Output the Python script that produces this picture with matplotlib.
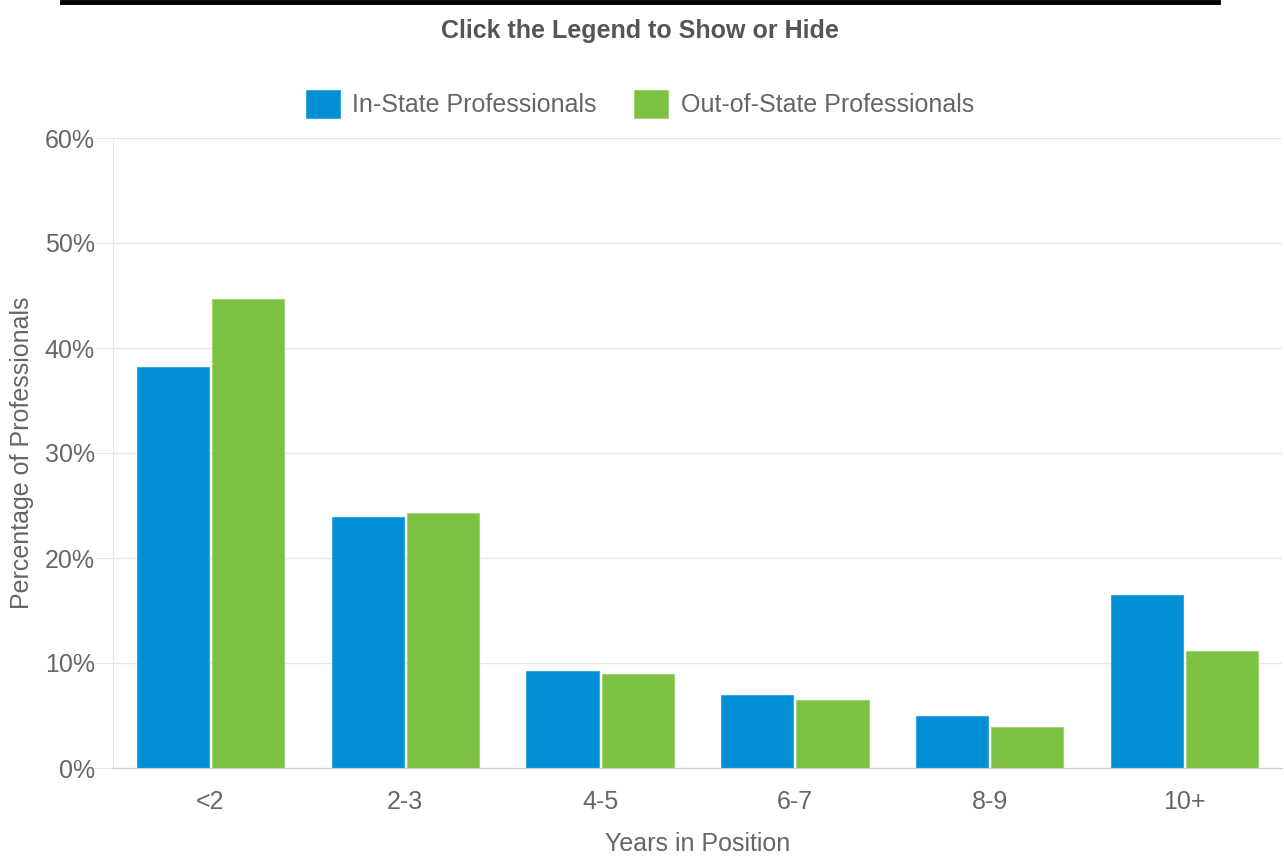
import numpy as np
from matplotlib import pyplot as plt
from matplotlib.lines import Line2D

plt.rcParams['font.family'] = ['Liberation Sans', 'DejaVu Sans']

categories = ["<2", "2-3", "4-5", "6-7", "8-9", "10+"]
in_state = [38.2, 23.9, 9.2, 7.0, 5.0, 16.5]
out_state = [44.7, 24.3, 9.0, 6.5, 3.9, 11.1]
series_names = ["In-State Professionals", "Out-of-State Professionals"]
yticks = [0, 10, 20, 30, 40, 50, 60]

W, H = 1284, 856
fig = plt.figure(figsize=(W / 100, H / 100), dpi=100)
ax = fig.add_axes([113 / W, (H - 768) / H, 1169 / W, 630 / H])

blue = "#008fd5"
green = "#7dc142"
text_gray = "#666666"

x = np.arange(len(categories))
w = 0.37
ax.bar(x - 0.193, in_state, w, color=blue, edgecolor="#3aa6e0", linewidth=0.8,
       label=series_names[0], zorder=3)
ax.bar(x + 0.193, out_state, w, color=green, edgecolor="#a2d37a", linewidth=0.8,
       label=series_names[1], zorder=3)

ax.set_xlim(-0.5, len(categories) - 0.5)
ax.set_ylim(0, 60)
ax.set_yticks(yticks)
ax.set_yticklabels([f"{t}%" for t in yticks])
ax.set_xticks(x)
ax.set_xticklabels(categories)
ax.grid(axis="y", color="#e6e6e6", linewidth=1, zorder=0)
ax.tick_params(axis="y", length=12, color="#e6e6e6", labelsize=18,
               labelcolor=text_gray, pad=1)
ax.tick_params(axis="x", length=0, labelsize=18, labelcolor=text_gray, pad=16)

for s in ["top", "right"]:
    ax.spines[s].set_visible(False)
ax.spines["left"].set_color("#e6e6e6")
ax.spines["bottom"].set_color("#cccccc")
ax.spines["bottom"].set_zorder(4)

ax.set_xlabel("Years in Position", fontsize=18, color=text_gray, labelpad=13)
ax.set_ylabel("Percentage of Professionals", fontsize=18, color=text_gray, labelpad=8)

fig.text(640 / W, 1 - 31 / H, "Click the Legend to Show or Hide", ha="center",
         va="center", fontsize=18, fontweight="bold", color="#555555")

fig.add_artist(Line2D([62 / W, 1218 / W], [1 - 1.5 / H, 1 - 1.5 / H],
                      color="black", linewidth=3.5))

fig.legend(loc="center", bbox_to_anchor=(640 / W, 1 - 104 / H), ncol=2,
           frameon=False, fontsize=18, labelcolor=text_gray,
           handlelength=1.36, handleheight=1.36, handletextpad=0.5,
           columnspacing=1.5)

fig.savefig("out.png", dpi=100)
